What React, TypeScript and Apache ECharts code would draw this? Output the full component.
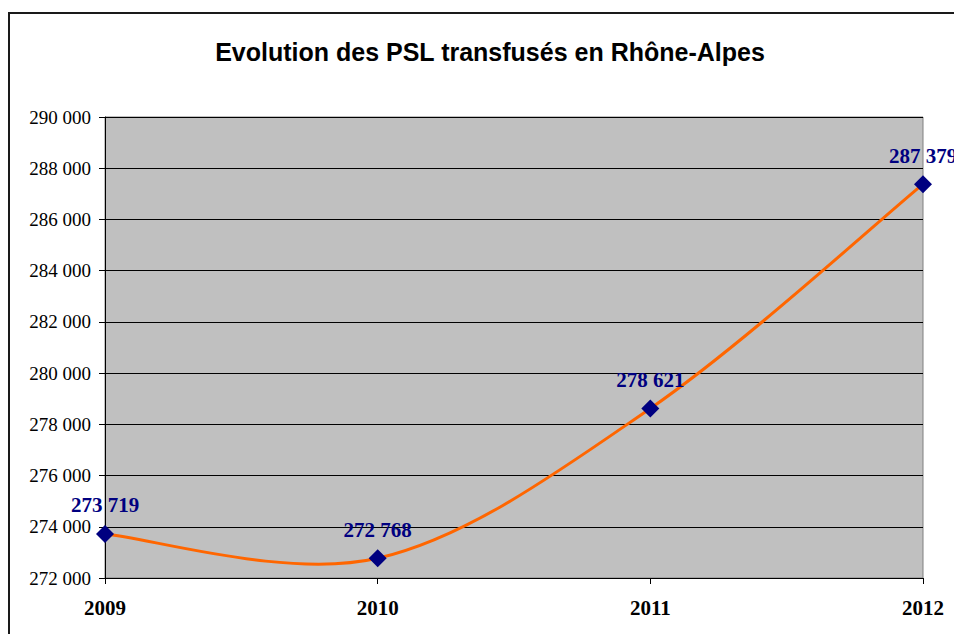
import React, { useEffect, useRef } from "react";
import * as echarts from "echarts";

const categories = ["2009", "2010", "2011", "2012"];
const values = [273719, 272768, 278621, 287379];
const titleText = "Evolution des PSL transfusés en Rhône-Alpes";

const fmt = (v: number) => String(Math.round(v)).replace(/\B(?=(\d{3})+(?!\d))/g, " ");
const SERIF = "'Liberation Serif', 'Times New Roman', serif";
const SANS = "'Liberation Sans', Arial, sans-serif";

export default function App() {
  const ref = useRef<HTMLDivElement>(null);
  useEffect(() => {
    if (!ref.current) return;
    const chart = echarts.init(ref.current, undefined, { renderer: "svg" });
    chart.setOption({
      animation: false,
      backgroundColor: "#ffffff",
      title: {
        text: titleText,
        left: 485,
        textAlign: "center",
        top: 34,
        textStyle: {
          fontFamily: SANS,
          fontSize: 25,
          fontWeight: "bold",
          color: "#000000",
        },
      },
      graphic: [
        {
          type: "rect",
          shape: { x: 9, y: 13, width: 1000, height: 700 },
          style: { fill: "none", stroke: "#1a1a1a", lineWidth: 2 },
          silent: true,
          z: 100,
        },
      ],
      grid: {
        left: 105,
        right: 31,
        top: 117,
        bottom: 56,
        show: true,
        backgroundColor: "#C0C0C0",
        borderColor: "#808080",
        borderWidth: 1,
      },
      xAxis: {
        type: "category",
        data: categories,
        boundaryGap: false,
        axisLine: { show: true, lineStyle: { color: "#000000", width: 1 } },
        axisTick: { show: true, length: 6, lineStyle: { color: "#000000" } },
        axisLabel: {
          margin: 19,
          fontFamily: SERIF,
          fontSize: 21,
          fontWeight: "bold",
          color: "#000000",
        },
        splitLine: { show: false },
      },
      yAxis: {
        type: "value",
        min: 272000,
        max: 290000,
        interval: 2000,
        axisLine: { show: true, lineStyle: { color: "#000000", width: 1 } },
        axisTick: { show: true, length: 6, lineStyle: { color: "#000000" } },
        axisLabel: {
          margin: 14,
          formatter: (v: number) => fmt(v),
          fontFamily: SERIF,
          fontSize: 19,
          color: "#000000",
        },
        splitLine: { show: true, lineStyle: { color: "#000000", width: 1 } },
      },
      series: [
        {
          type: "custom",
          data: values.map((v, i) => [i, v]),
          clip: false,
          z: 3,
          silent: true,
          renderItem: (params: any, api: any) => {
            const i = params.dataIndex;
            const n = values.length;
            if (i >= n - 1) return null;
            const pt = (k: number) => {
              const kk = Math.max(0, Math.min(n - 1, k));
              return api.coord([kk, values[kk]]);
            };
            const p0 = pt(i - 1);
            const p1 = pt(i);
            const p2 = pt(i + 1);
            const p3 = pt(i + 2);
            const t = 6;
            return {
              type: "bezierCurve",
              shape: {
                x1: p1[0],
                y1: p1[1],
                cpx1: p1[0] + (p2[0] - p0[0]) / t,
                cpy1: p1[1] + (p2[1] - p0[1]) / t,
                cpx2: p2[0] - (p3[0] - p1[0]) / t,
                cpy2: p2[1] - (p3[1] - p1[1]) / t,
                x2: p2[0],
                y2: p2[1],
              },
              style: { fill: "none", stroke: "#FF6600", lineWidth: 3 },
            };
          },
        },
        {
          type: "line",
          data: values,
          symbol: "diamond",
          symbolSize: 18,
          lineStyle: { width: 0, opacity: 0 },
          itemStyle: { color: "#000080" },
          label: {
            show: true,
            position: "top",
            distance: 9,
            formatter: (p: any) => fmt(p.value),
            fontFamily: SERIF,
            fontSize: 21,
            fontWeight: "bold",
            color: "#000080",
          },
          z: 5,
        },
      ],
    });
    return () => chart.dispose();
  }, []);
  return (
    <div
      ref={ref}
      style={{ position: "fixed", left: 0, top: 0, width: 954, height: 634 }}
    />
  );
}
